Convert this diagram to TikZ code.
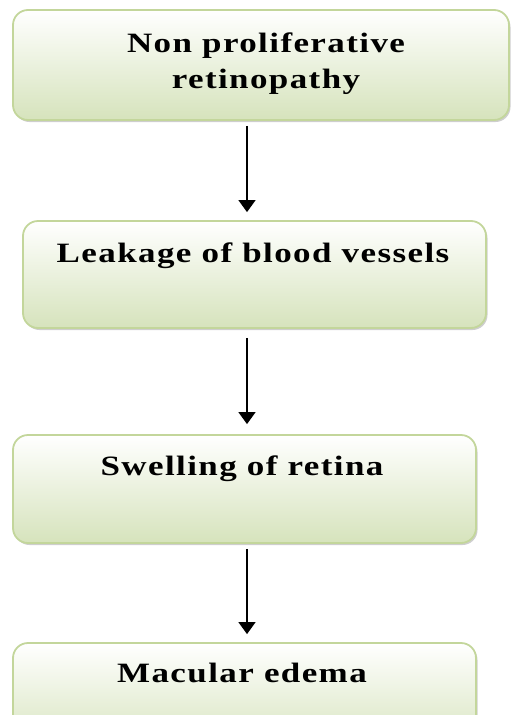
\documentclass[tikz,border=0pt]{standalone}
\usepackage{fontspec}
\setmainfont{Liberation Serif}[FakeStretch=1.25, LetterSpace=5]
\usetikzlibrary{arrows.meta,shadows}

\definecolor{boxline}{HTML}{C3D69B}
\definecolor{boxlow}{HTML}{D6E3BC}

\tikzset{
  stage/.style={draw=boxline, line width=1.8pt, rounded corners=15pt,
    top color=white, bottom color=boxlow,
    drop shadow={shadow xshift=1.5pt, shadow yshift=-2pt, opacity=.35, fill=black!55}},
  caption/.style={font=\bfseries\fontsize{28}{36}\selectfont, anchor=base, align=center, inner sep=0pt},
  flow/.style={-{Triangle[width=17pt,length=12pt]}, line width=1.3pt}
}

\begin{document}
\begin{tikzpicture}[x=1pt, y=-1pt]
  \useasboundingbox (0,0) rectangle (512,715);
  \clip (0,0) rectangle (512,715);
  \coordinate (ax) at (247,0);

  % the four stages
  \node[stage, minimum width=496pt, minimum height=110pt] (b1) at (261,65) {};
  \node[stage, minimum width=463pt, minimum height=107pt] (b2) at (254.5,274.5) {};
  \node[stage, minimum width=463pt, minimum height=108pt] (b3) at (244.5,489) {};
  \node[stage, minimum width=463pt, minimum height=108pt] (b4) at (244.5,697) {};

  % stage captions (base anchor of a two-line caption is its last line)
  \node[caption] (t1) at (266,88) {Non proliferative\\retinopathy};
  \node[caption] (t2) at (253,262) {Leakage of blood vessels};
  \node[caption] (t3) at (242,475) {Swelling of retina};
  \node[caption] (t4) at (242,682) {Macular edema};

  % connectors
  \draw[flow, shorten <=5pt, shorten >=8pt] (b1.south -| ax) -- (b2.north -| ax);
  \draw[flow, shorten <=9pt, shorten >=10pt] (b2.south -| ax) -- (b3.north -| ax);
  \draw[flow, shorten <=5pt, shorten >=8pt] (b3.south -| ax) -- (b4.north -| ax);
\end{tikzpicture}
\end{document}
